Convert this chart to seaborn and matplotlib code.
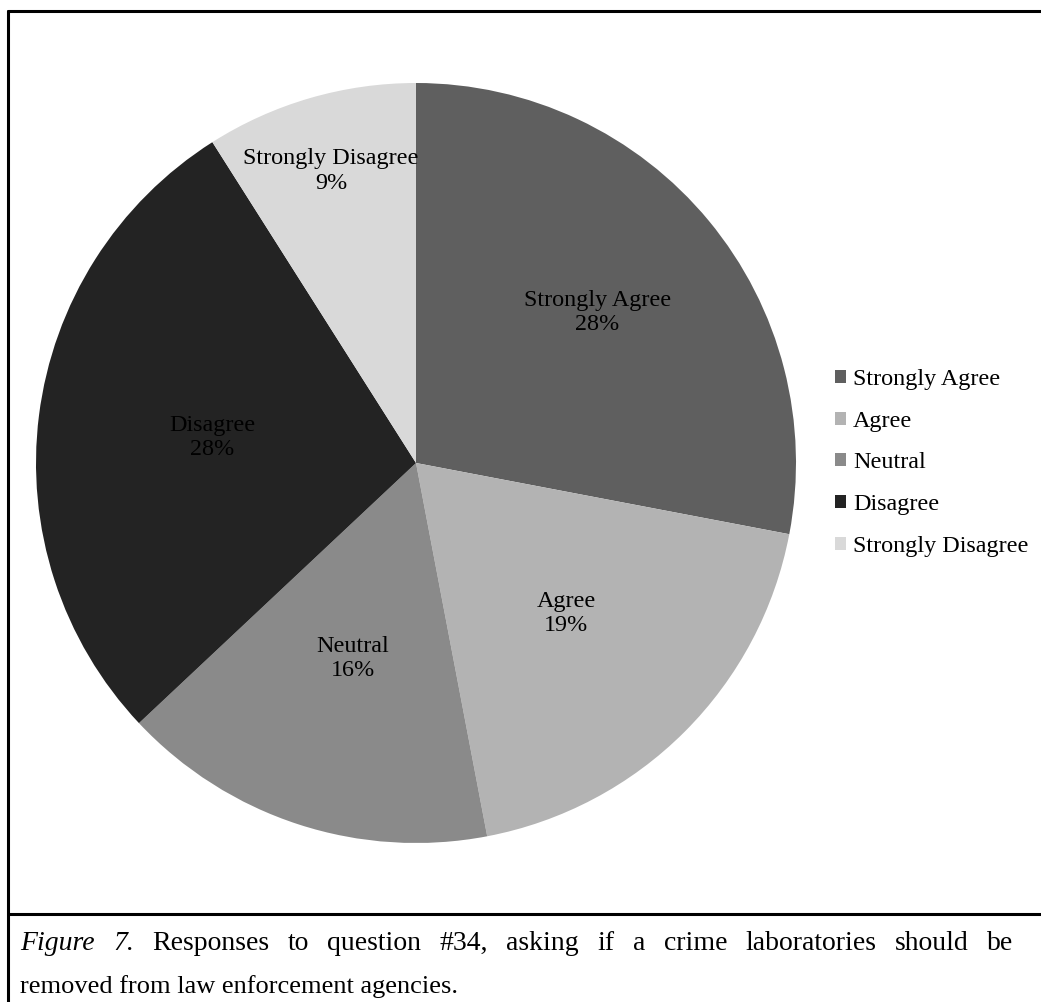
import numpy as np
import pandas as pd
import matplotlib.pyplot as plt
import seaborn as sns
from matplotlib.lines import Line2D
from matplotlib.patches import Patch

# survey answers for question 34 (percent)
categories = ["Strongly Agree", "Agree", "Neutral", "Disagree", "Strongly Disagree"]
shares = [28, 19, 16, 28, 9]
colors = ["#5f5f5f", "#b3b3b3", "#8a8a8a", "#232323", "#d9d9d9"]
# how far out each label sits (fraction of radius)
label_dist = [0.62, 0.56, 0.54, 0.54, 0.80]

caption1 = "Responses to question #34, asking if a crime laboratories should be"
caption2 = "removed from law enforcement agencies."

sns.set_theme(style="white")
plt.rcParams["font.family"] = ["Liberation Serif", "DejaVu Serif"]
plt.rcParams["text.color"] = "black"

df = pd.DataFrame({"answer": categories, "pct": shares})

W, H = 1041, 1002
fig = plt.figure(figsize=(W / 100, H / 100), dpi=100)
fig.patch.set_facecolor("white")

cx, cy, r = 416, 463, 380
ax = fig.add_axes([(cx - r) / W, (H - cy - r) / H, 2 * r / W, 2 * r / H])
wedges, _ = ax.pie(df["pct"], colors=colors, startangle=90, counterclock=False,
                   radius=1.0, wedgeprops=dict(linewidth=0))
ax.set_xlim(-1, 1)
ax.set_ylim(-1, 1)
ax.set_aspect("equal")
ax.axis("off")

for w, name, p, d in zip(wedges, df["answer"], df["pct"], label_dist):
    mid = np.deg2rad((w.theta1 + w.theta2) / 2)
    ax.text(d * np.cos(mid), d * np.sin(mid), f"{name}\n{p}%", ha="center", va="center",
            fontsize=17.4, color="black", linespacing=1.2)

handles = [Patch(facecolor=c, edgecolor="none") for c in colors]
fig.legend(handles, categories, loc="center left", bbox_to_anchor=(835 / W, (H - 463) / H),
           frameon=False, fontsize=17.4, handlelength=0.46, handleheight=0.46,
           handletextpad=0.28, labelspacing=0.86, borderaxespad=0, labelcolor="black",
           borderpad=0)

# frame lines like the document box
lw = 2.2
fig.add_artist(Line2D([8 / W, 1], [(H - 11) / H, (H - 11) / H], color="black", lw=lw))
fig.add_artist(Line2D([8 / W, 8 / W], [0, (H - 11) / H], color="black", lw=lw))
fig.add_artist(Line2D([8 / W, 1], [(H - 914) / H, (H - 914) / H], color="black", lw=lw))

# caption, first line justified out to the right edge
fig.canvas.draw()
renderer = fig.canvas.get_renderer()
words = [("Figure", "italic"), ("7.", "italic")] + [(w_, "normal") for w_ in caption1.split()]
y1 = (H - 943) / H
txts = []
for wd, st in words:
    t = fig.text(0, y1, wd, style=st, fontsize=20, va="center", ha="left", color="black")
    txts.append(t)
widths = [t.get_window_extent(renderer).width for t in txts]
x0, x1 = 20, 1013
gap = (x1 - x0 - sum(widths)) / (len(words) - 1)
x = x0
for t, wdt in zip(txts, widths):
    t.set_x(x / W)
    x += wdt + gap

fig.text(20 / W, (H - 987) / H, caption2, fontsize=19, va="center", ha="left", color="black")

fig.savefig("out.png", dpi=100)
